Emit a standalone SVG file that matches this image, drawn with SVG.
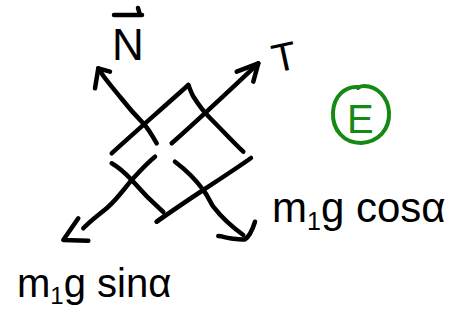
<svg xmlns="http://www.w3.org/2000/svg" width="451" height="321" viewBox="0 0 451 321">
<style>
.ink{fill:none;stroke:#000;stroke-width:4.5;stroke-linecap:round;stroke-linejoin:round}
.lbl{font-family:"Liberation Sans","DejaVu Sans",sans-serif;fill:#000}
.grn{fill:none;stroke:#148a14;stroke-width:4;stroke-linecap:round;stroke-linejoin:round}
</style>
<rect width="451" height="321" fill="#fff"/>
<g id="box">
<path class="ink" d="M111.7,153.3 C135,132 165,106 188.3,85"/>
<path class="ink" d="M188.3,85 C190,89 191,92 193,96 C198,104 203,111 210,118 C222,130 232,141 243.3,151.7"/>
<path class="ink" d="M111.7,163.3 C120,168 126,174 131.7,180 C142,192 152,202 163.3,212 M156.7,221.7 L163.3,216.7"/>
<path class="ink" d="M156.7,221.7 C172,211 188,200 203.3,190 C220,179 237,168 251,158"/>
</g>
<g id="connectors">
<path class="ink" d="M156.7,143.3 C152,135 148,128 143.3,123.3 C136,116 128,107 121,98 C113,88 104,78 98.3,68.3"/>
<path class="ink" d="M95,88.3 L98.3,68.3 L110,71.7"/>
<path class="ink" d="M171.7,143.3 C200,118 230,90 258.3,63.3"/>
<path class="ink" d="M236.7,71.7 L258.3,63.3 L253.3,81.7"/>
<path class="ink" d="M155,156.7 C146,164 139,172 131.7,180 C124,189 117,199 108.3,206.7 C100,214 91,220 83.3,228.3"/>
<path class="ink" d="M78.3,218.3 L63.3,240 L88.3,240.7"/>
<path class="ink" d="M175,161.7 C186,170 196,180 203.3,190 C208,196 210,202 213.3,206.7 C222,218 232,227 243.3,235"/>
<path class="ink" d="M218.3,236 C222,236 226,238 230,238.3 C236,239 242,240 245,239.3 C250,236 253,228 255,221.7"/>
</g>
<g id="label-N">
<text class="lbl" x="112" y="60" font-size="44">N</text>
<path class="ink" d="M114,15 L142,15 M138,8 L140,15"/>
</g>
<g id="label-T">
<text class="lbl" x="272" y="70" font-size="40" transform="rotate(-12 288 56)">T</text>
</g>
<g id="label-cos">
<text class="lbl" x="272" y="222" font-size="42">m<tspan font-size="25" dy="8">1</tspan><tspan dy="-8">g cosα</tspan></text>
</g>
<g id="label-sin">
<text class="lbl" x="17" y="297" font-size="40">m<tspan font-size="24" dy="7">1</tspan><tspan dy="-7">g sinα</tspan></text>
</g>
<g id="label-E">
<path class="grn" d="M358,87 C345,86 334,96 333,112 C332,130 344,143 361,143 C378,142 390,130 389,112 C388,97 377,86 364,86 C360,86 358,88 358,88"/>
<text x="347" y="133" font-family="Liberation Sans,DejaVu Sans,sans-serif" font-size="40" fill="#148a14">E</text>
</g>
</svg>
